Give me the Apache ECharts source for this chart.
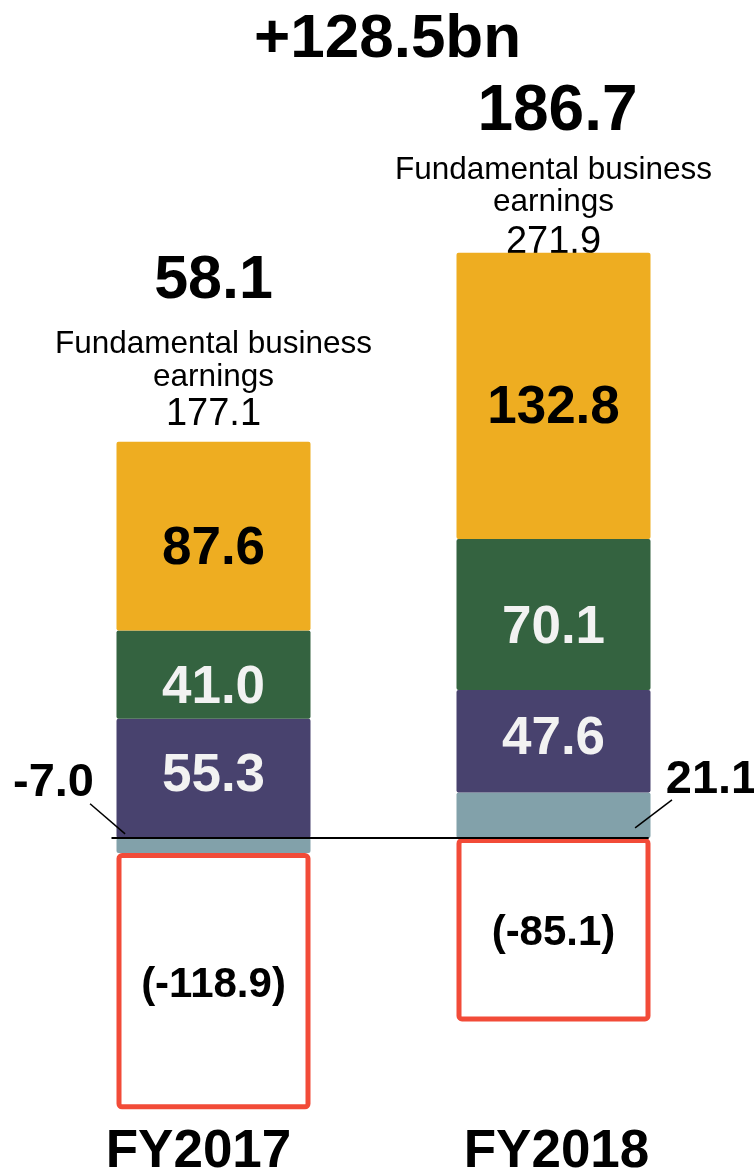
<!DOCTYPE html>
<html>
<head>
<meta charset="utf-8">
<script src="https://cdn.jsdelivr.net/npm/echarts@6/dist/echarts.min.js"></script>
<style>
html,body{margin:0;padding:0;background:#fff;}
#chart{width:754px;height:1171px;}
</style>
</head>
<body>
<div id="chart"></div>
<script>
// ---- data ----
const categories = ['FY2017', 'FY2018'];
const otherItems = [-7.0, 21.1];        // grey-blue segment
const segPurple = [55.3, 47.6];
const segGreen = [41.0, 70.1];
const segOrange = [87.6, 132.8];
const creditCosts = [-118.9, -85.1];    // red outlined box
const fundamental = [177.1, 271.9];
const netTotals = [58.1, 186.7];
const changeText = '+128.5bn';
const fundamentalLabel = ['Fundamental business', 'earnings'];

// ---- layout / style ----
const FONT = 'Liberation Sans, Arial, sans-serif';
const positiveTop = categories.map((c, i) =>
  [otherItems, segPurple, segGreen, segOrange].reduce((s, arr) => s + (arr[i] > 0 ? arr[i] : 0), 0));

const topStyle = [
  { netSize: 61, net: 93, desc: 33, fund: 41, dist: 7, netPad: [0, 0, 0, 0] },
  { netSize: 64, net: 84, desc: 32, fund: 48, dist: -14, netPad: [0, 0, 0, 8] }
];

function richFor(i) {
  const t = topStyle[i];
  return {
    net: { fontFamily: FONT, fontWeight: 'bold', fontSize: t.netSize, color: '#000', lineHeight: t.net, padding: t.netPad },
    desc: { fontFamily: FONT, fontSize: 31.5, color: '#000', lineHeight: t.desc },
    fund: { fontFamily: FONT, fontSize: 38, color: '#000', lineHeight: t.fund }
  };
}

const segLabel = (color, dy) => ({
  show: true,
  position: 'inside',
  offset: [0, dy],
  fontFamily: FONT,
  fontWeight: 'bold',
  fontSize: 53,
  color: color,
  formatter: (p) => p.value.toFixed(1)
});

// callout leader lines (x in category units, y in axis values)
const leaderLines = [
  [[-0.363, 15.9], [-0.26, 1.9]],
  [[1.3485, 17.7], [1.24, 4.7]]
];

const BW = 194;
const common = { type: 'bar', stack: 'total', barWidth: BW, barGap: '-100%', z: 3 };

const chart = echarts.init(document.getElementById('chart'), null, { renderer: 'canvas' });
chart.setOption({
  animation: false,
  backgroundColor: '#fff',
  title: {
    text: changeText,
    left: 249,
    top: 4,
    padding: 5,
    textStyle: { fontFamily: FONT, fontWeight: 'bold', fontSize: 62, color: '#000' }
  },
  grid: { left: 43.5, right: 30.5, top: 234.6, bottom: 52.85, outerBoundsMode: 'none', containLabel: false },
  xAxis: [
    {
      type: 'category',
      data: [
        { value: categories[0], textStyle: { padding: [0, 30, 0, 0] } },
        { value: categories[1], textStyle: { padding: [0, 0, 0, 6] } }
      ],
      axisLine: { show: false },
      axisTick: { show: false },
      axisLabel: {
        fontFamily: FONT, fontWeight: 'bold', fontSize: 53, color: '#000',
        margin: 8
      }
    },
    { type: 'value', min: -0.5, max: 1.5, show: false }
  ],
  yAxis: { type: 'value', min: -130, max: 280, show: false, splitLine: { show: false } },
  series: [
    {
      ...common,
      name: 'Other',
      data: otherItems,
      itemStyle: { color: '#82A1AA', borderRadius: 2 },
      label: {
        show: true, position: 'inside',
        fontFamily: FONT, fontWeight: 'bold', fontSize: 47, color: '#000',
        formatter: (p) => p.value.toFixed(1)
      },
      labelLayout: (p) => {
        const r = p.rect;
        if (p.dataIndex === 0) {
          return { x: r.x - 63, y: r.y - 55, align: 'center', verticalAlign: 'middle' };
        }
        return { x: r.x + r.width + 61, y: r.y - 12, align: 'center', verticalAlign: 'middle' };
      }
    },
    {
      ...common,
      name: 'Purple',
      data: segPurple,
      itemStyle: { color: '#48426E', borderRadius: 2 },
      label: segLabel('#F2F2F2', -2)
    },
    {
      ...common,
      name: 'Green',
      data: segGreen,
      itemStyle: { color: '#346340', borderRadius: 2 },
      label: segLabel('#F2F2F2', 14)
    },
    {
      ...common,
      name: 'Orange',
      data: segOrange,
      itemStyle: { color: '#EEAD21', borderRadius: 2 },
      label: segLabel('#000', 13)
    },
    {
      ...common,
      name: 'Credit costs',
      data: creditCosts,
      itemStyle: { color: '#fff', borderColor: '#F24B38', borderWidth: 5, borderRadius: 3 },
      label: {
        show: true, position: 'inside', offset: [0, 4],
        fontFamily: FONT, fontWeight: 'bold', fontSize: 42, color: '#000',
        formatter: (p) => '(' + p.value.toFixed(1) + ')'
      }
    },
    {
      type: 'bar',
      name: 'Top labels',
      barWidth: BW,
      barGap: '-100%',
      z: 1,
      silent: true,
      itemStyle: { color: 'rgba(0,0,0,0)' },
      data: positiveTop.map((v, i) => ({
        value: v,
        label: {
          show: true,
          position: 'top',
          distance: topStyle[i].dist,
          align: 'center',
          formatter: () => '{net|' + netTotals[i].toFixed(1) + '}\n{desc|' + fundamentalLabel[0] +
            '}\n{desc|' + fundamentalLabel[1] + '}\n{fund|' + fundamental[i].toFixed(1) + '}',
          rich: richFor(i)
        }
      }))
    },
    {
      type: 'line',
      name: 'Zero line',
      xAxisIndex: 1,
      yAxisIndex: 0,
      z: 6,
      silent: true,
      symbol: 'none',
      lineStyle: { color: '#000', width: 2 },
      data: [[-0.3, 0], [1.28, 0]]
    },
    ...leaderLines.map((pts, i) => ({
      type: 'line',
      name: 'Leader ' + i,
      xAxisIndex: 1,
      yAxisIndex: 0,
      z: 6,
      silent: true,
      symbol: 'none',
      lineStyle: { color: '#000', width: 1.5 },
      data: pts
    }))
  ]
});
</script>
</body>
</html>
